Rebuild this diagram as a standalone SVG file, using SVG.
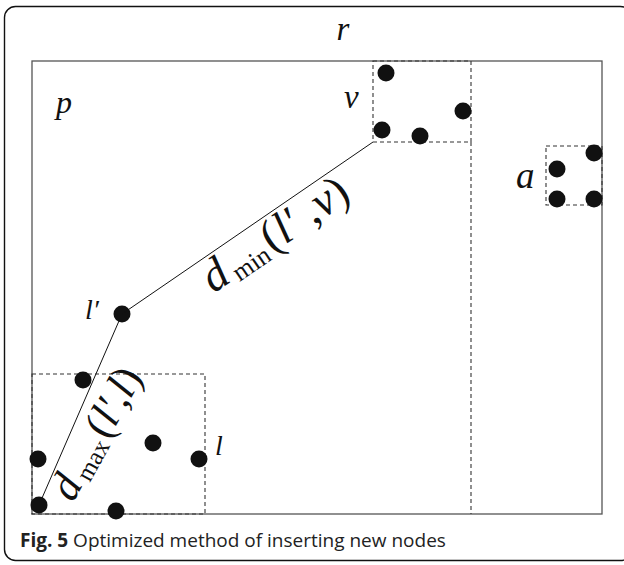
<svg xmlns="http://www.w3.org/2000/svg" width="624" height="565" viewBox="0 0 624 565">
<style>
.frame{fill:none;stroke:#111;stroke-width:1.4}
.region{fill:none;stroke:#555;stroke-width:1.3}
.dash{fill:none;stroke:#333;stroke-width:1.1;stroke-dasharray:4 3}
.dot{fill:#111}
.lbl{font-family:"Liberation Serif",serif;font-style:italic;fill:#111}
.math{font-family:"Liberation Serif",serif;fill:#111}
.cap{font-family:"Open Sans","Liberation Sans",sans-serif;font-size:19px;fill:#222}
.conn{stroke:#111;stroke-width:1;fill:none}
</style>
<rect class="frame" x="4.5" y="6.5" width="627" height="554" rx="11"/>
<g id="r"><text class="lbl" x="343" y="40" font-size="33" text-anchor="middle" font-style="italic">r</text></g>
<g id="p">
<rect class="region" x="32" y="61" width="570" height="453"/>
<text class="lbl" x="56" y="113" font-size="32" font-style="italic">p</text>
</g>
<line class="dash" x1="471" y1="142" x2="471" y2="514"/>
<g id="v">
<rect class="dash" x="373" y="61" width="98" height="81"/>
<text class="lbl" x="344" y="108" font-size="33" font-style="italic">v</text>
<circle class="dot" cx="386" cy="73" r="8.5"/>
<circle class="dot" cx="463" cy="111" r="8.5"/>
<circle class="dot" cx="382" cy="130" r="8.5"/>
<circle class="dot" cx="420" cy="136" r="8.5"/>
</g>
<g id="a">
<rect class="dash" x="546" y="146" width="56" height="59"/>
<text class="lbl" x="516" y="188" font-size="37" font-style="italic">a</text>
<circle class="dot" cx="557" cy="169" r="8.5"/>
<circle class="dot" cx="594" cy="153" r="8.5"/>
<circle class="dot" cx="557" cy="199" r="8.5"/>
<circle class="dot" cx="594" cy="199" r="8.5"/>
</g>
<g id="lprime">
<circle class="dot" cx="122" cy="314" r="8.5"/>
<text class="lbl" x="85" y="319" font-size="28" font-style="italic">l′</text>
</g>
<g id="l">
<rect class="dash" x="32" y="374" width="173" height="140"/>
<text class="lbl" x="215" y="455" font-size="28" font-style="italic">l</text>
<circle class="dot" cx="83" cy="380" r="8.5"/>
<circle class="dot" cx="38" cy="459" r="8.5"/>
<circle class="dot" cx="153" cy="443" r="8.5"/>
<circle class="dot" cx="199" cy="459" r="8.5"/>
<circle class="dot" cx="39" cy="505" r="8.5"/>
<circle class="dot" cx="116" cy="511" r="8.5"/>
</g>
<g id="connectors">
<line class="conn" x1="373" y1="142" x2="122" y2="314"/>
<line class="conn" x1="122" y1="314" x2="39" y2="505"/>
<text class="math" transform="translate(122,314) rotate(-34.4)" x="87" y="35" font-size="46"><tspan font-style="italic">d</tspan><tspan font-size="26" dx="5" dy="5">min</tspan><tspan dx="3" dy="-5">(</tspan><tspan font-style="italic">l′</tspan> ,<tspan font-style="italic">v</tspan>)</text>
<text class="math" transform="translate(73,503) rotate(-61)" x="0" y="0" font-size="43"><tspan font-style="italic">d</tspan><tspan font-size="25" dx="4" dy="5">max</tspan><tspan dx="3" dy="-5">(</tspan><tspan font-style="italic">l′</tspan>,<tspan font-style="italic">l</tspan>)</text>
</g>
<text class="cap" x="20" y="547"><tspan font-weight="bold">Fig. 5</tspan> Optimized method of inserting new nodes</text>
</svg>
